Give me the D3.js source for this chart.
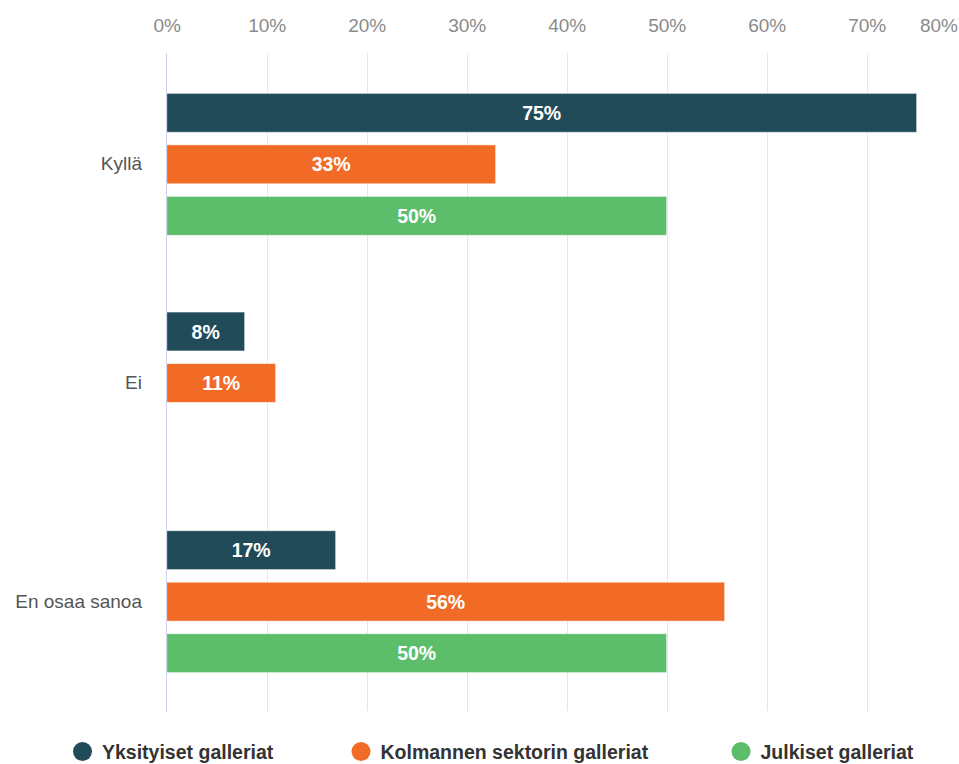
<!DOCTYPE html>
<html><head><meta charset="utf-8">
<script src="https://cdn.jsdelivr.net/npm/d3@7"></script>
<style>html,body{margin:0;padding:0;background:#fff;overflow:hidden}svg{display:block}</style>
</head><body>
<script>
const categories = ["Kyllä", "Ei", "En osaa sanoa"];
const seriesNames = ["Yksityiset galleriat", "Kolmannen sektorin galleriat", "Julkiset galleriat"];
const seriesColors = ["#224b59", "#f26b26", "#5cbd6a"];
const yksityiset = [75, 7.8, 16.9];
const kolmannen = [32.9, 10.9, 55.8];
const julkiset = [50, null, 50];
const tickValues = [0, 10, 20, 30, 40, 50, 60, 70, 80];

const W = 959, H = 764;
const svg = d3.select("body").append("svg").attr("width", W).attr("height", H);
const font = "'Liberation Sans', Arial, sans-serif";

const x = d3.scaleLinear().domain([0, 80]).range([166.7, 966.7]);
const y0 = d3.scaleBand().domain(categories).range([55, 711]);
const y1 = d3.scaleBand().domain(seriesNames).range([-71, 71]).paddingInner(0.243).paddingOuter(0);

// grid
svg.append("g").selectAll("line").data(tickValues.slice(1)).join("line")
  .attr("x1", d => Math.round(x(d)) + 0.5).attr("x2", d => Math.round(x(d)) + 0.5)
  .attr("y1", 53).attr("y2", 711).attr("stroke", "#e6e6e6").attr("stroke-width", 1);

// top axis labels
const xAxis = d3.axisTop(x).tickValues(tickValues).tickFormat(d => d + "%").tickSize(0).tickPadding(0);
const gx = svg.append("g").attr("transform", "translate(0,32)").call(xAxis);
gx.select(".domain").remove();
gx.selectAll("text").attr("font-family", font).attr("font-size", 19).attr("fill", "#8a8a8a").attr("dy", 0);
// last label justified inside the window, as in the reference
gx.selectAll(".tick").filter(d => d === 80).select("text")
  .attr("text-anchor", "end").attr("x", W - 1 - x(80) + 0);
gx.selectAll(".tick").filter(d => d === 80).attr("transform", `translate(0,0)`).select("text").attr("x", W - 1);

// category labels
const yAxis = d3.axisLeft(y0).tickSize(0).tickPadding(0);
const gy = svg.append("g").attr("transform", "translate(142,0)").call(yAxis);
gy.select(".domain").remove();
gy.selectAll("text").attr("font-family", font).attr("font-size", 19).attr("fill", "#555");

const seriesData = [yksityiset, kolmannen, julkiset];
const rows = [];
seriesData.forEach((vals, si) => vals.forEach((v, ci) => {
  if (v != null) rows.push({ s: seriesNames[si], c: categories[ci], v, color: seriesColors[si] });
}));

const bars = svg.append("g");
bars.selectAll("rect").data(rows).join("rect")
  .attr("x", x(0))
  .attr("y", d => y0(d.c) + y0.bandwidth() / 2 + y1(d.s))
  .attr("width", d => x(d.v) - x(0))
  .attr("height", y1.bandwidth())
  .attr("fill", d => d.color)
  .attr("stroke", "#ffffff").attr("stroke-opacity", 0.6).attr("stroke-width", 1);

bars.selectAll("text").data(rows).join("text")
  .attr("x", d => (x(0) + x(d.v)) / 2)
  .attr("y", d => y0(d.c) + y0.bandwidth() / 2 + y1(d.s) + y1.bandwidth() / 2)
  .attr("dy", "0.36em").attr("text-anchor", "middle")
  .attr("font-family", font).attr("font-size", 19.5).attr("font-weight", "bold").attr("fill", "#fff")
  .text(d => d3.format(".0f")(d.v) + "%");

// axis line at zero
svg.append("line").attr("x1", 166.5).attr("x2", 166.5).attr("y1", 53).attr("y2", 712)
  .attr("stroke", "#ccd6eb").attr("stroke-width", 1);

// legend
const legendX = [82.5, 361, 741];
const lg = svg.append("g").selectAll("g").data(seriesNames).join("g")
  .attr("transform", (d, i) => `translate(${legendX[i]},751.5)`);
lg.append("circle").attr("r", 9.5).attr("fill", (d, i) => seriesColors[i]);
lg.append("text").attr("x", 19.5).attr("dy", "0.36em")
  .attr("font-family", font).attr("font-size", 19.5).attr("font-weight", "bold").attr("fill", "#333")
  .text(d => d);
</script>
</body></html>
